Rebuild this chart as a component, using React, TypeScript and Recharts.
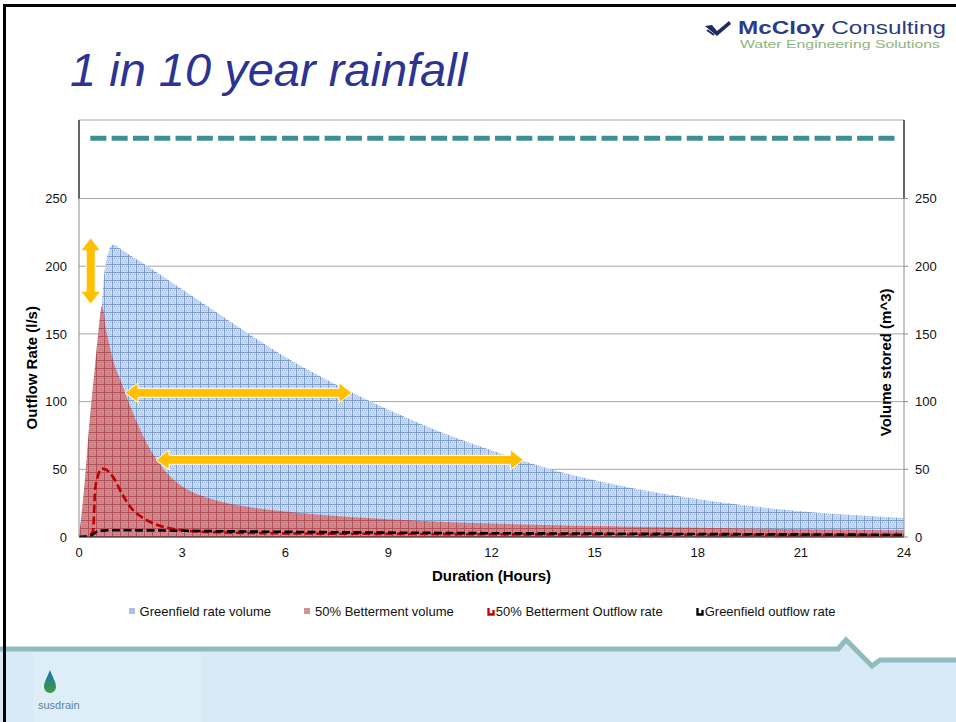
import React from 'react';
import { ComposedChart, Area, Line, XAxis, YAxis, CartesianGrid, Legend, ReferenceLine } from 'recharts';

const FONT = '"Liberation Sans", Arial, sans-serif';

// duration in hours
const hours = [0, 0.17, 0.33, 0.41, 0.47, 0.55, 0.67, 0.8, 1, 1.25, 1.5, 1.75, 2, 2.5, 3, 3.5, 4, 5, 6, 7, 8, 9, 10, 11, 12, 13, 14, 15, 16, 17, 18, 19, 20, 21, 22, 23, 24];

const greenfieldVolume = [0, 3, 15, 30, 50, 95, 172, 205, 216, 212, 208, 204, 200, 191.5, 183, 174.5, 166, 149, 133, 119, 106, 94, 83, 73, 64, 55.5, 48, 42, 36.5, 32, 28, 24.5, 21.5, 19, 17, 15.5, 14];
const bettermentVolume = [0, 42, 92, 112, 128, 148, 171, 152, 130, 113, 96, 81, 68, 49, 37.5, 31, 27, 22, 18.8, 16.5, 14.6, 13.1, 11.9, 10.8, 10, 9.3, 8.7, 8.1, 7.6, 7.2, 6.8, 6.4, 6.1, 5.8, 5.5, 5.2, 5];
const bettermentOutflow = [0, 0.3, 1.5, 5, 35, 45, 50.5, 49.5, 44, 32, 22, 16, 12, 7.2, 5, 4, 3.5, 3, 2.7, 2.5, 2.4, 2.3, 2.2, 2.1, 2, 1.95, 1.9, 1.85, 1.8, 1.75, 1.7, 1.65, 1.6, 1.55, 1.5, 1.45, 1.4];
const greenfieldOutflow = [0, 0.1, 0.8, 2, 3.2, 4.2, 4.7, 4.9, 5, 5, 5, 4.9, 4.9, 4.8, 4.6, 4.45, 4.3, 4, 3.8, 3.6, 3.4, 3.2, 3.1, 2.9, 2.8, 2.7, 2.6, 2.5, 2.4, 2.3, 2.2, 2.1, 2, 1.9, 1.8, 1.7, 1.6];

const hourTicks = [0, 3, 6, 9, 12, 15, 18, 21, 24];
const valueTicks = [0, 50, 100, 150, 200, 250];
const axisMax = 308;

// storage limit shown as the teal dashed line above the chart
const storageLimit = 294.5;
const storageSpan = [0.33, 23.77];

// the orange double arrows (hours, value)
const arrows = [
  [{ x: 0.34, y: 221 }, { x: 0.34, y: 172 }],
  [{ x: 1.34, y: 106.5 }, { x: 7.94, y: 106.5 }],
  [{ x: 2.24, y: 57 }, { x: 12.93, y: 57 }],
];

const series = [
  { key: 'gVol', name: 'Greenfield rate volume', kind: 'area', color: '#a9c1e5' },
  { key: 'bVol', name: '50% Betterment volume', kind: 'area', color: '#d39094' },
  { key: 'bOut', name: '50% Betterment Outflow rate', kind: 'line', color: '#c00000' },
  { key: 'gOut', name: 'Greenfield outflow rate', kind: 'line', color: '#000000' },
];

const data = hours.map((h, i) => ({
  hour: h,
  gVol: greenfieldVolume[i],
  bVol: bettermentVolume[i],
  bOut: bettermentOutflow[i],
  gOut: greenfieldOutflow[i],
}));

function DoubleArrow(props: any) {
  const { x1, y1, x2, y2 } = props;
  const dx = x2 - x1;
  const dy = y2 - y1;
  const len = Math.hypot(dx, dy) || 1;
  const ux = dx / len;
  const uy = dy / len;
  const px = -uy;
  const py = ux;
  const shaft = 4.5;
  const head = 10;
  const headLen = 13;
  const pt = (a: number, b: number) => `${x1 + ux * a + px * b},${y1 + uy * a + py * b}`;
  const points = [
    pt(0, 0), pt(headLen, head), pt(headLen, shaft), pt(len - headLen, shaft), pt(len - headLen, head),
    pt(len, 0), pt(len - headLen, -head), pt(len - headLen, -shaft), pt(headLen, -shaft), pt(headLen, -head),
  ].join(' ');
  return <polygon points={points} fill="#ffc000" stroke="#ffffff" strokeWidth={1} />;
}

const titleStyle = { fontSize: 15, fontWeight: 'bold' as const, fill: '#000', fontFamily: FONT };

function LeftTitle(props: any) {
  const vb = props.viewBox;
  const cx = vb.x + 32;
  const cy = vb.y + vb.height * (1 - 125 / axisMax);
  return (
    <text x={cx} y={cy} textAnchor="middle" dominantBaseline="central" transform={`rotate(-90 ${cx} ${cy})`} style={titleStyle}>
      Outflow Rate (l/s)
    </text>
  );
}

function RightTitle(props: any) {
  const vb = props.viewBox;
  const cx = vb.x - 18;
  const cy = vb.y + vb.height * (1 - 129 / axisMax);
  return (
    <text x={cx} y={cy} textAnchor="middle" dominantBaseline="central" transform={`rotate(-90 ${cx} ${cy})`} style={titleStyle}>
      Volume stored (m^3)
    </text>
  );
}

function BottomTitle(props: any) {
  const vb = props.viewBox;
  return (
    <text x={vb.x + vb.width / 2} y={vb.y + 38} textAnchor="middle" dominantBaseline="central" style={titleStyle}>
      Duration (Hours)
    </text>
  );
}

function LegendIcon({ kind, color }: { kind: string; color: string }) {
  if (kind === 'area') {
    return (
      <svg width={6} height={6} style={{ display: 'block' }}>
        <rect width={6} height={6} fill={color} />
      </svg>
    );
  }
  return (
    <svg width={8} height={9} style={{ display: 'block' }}>
      <path d="M1.5 1 V7.5 H6.5 V3" fill="none" stroke={color} strokeWidth={2.3} />
    </svg>
  );
}

function SlideLegend() {
  return (
    <div style={{ display: 'flex', justifyContent: 'center', alignItems: 'center', height: 30, boxSizing: 'border-box', paddingLeft: 16, paddingBottom: 4, fontFamily: FONT, fontSize: 13, color: '#111' }}>
      {series.map((s, i) => (
        <div key={s.key} style={{ display: 'flex', alignItems: 'center', marginLeft: i ? 33 : 0 }}>
          <LegendIcon kind={s.kind} color={s.color} />
          <span style={{ marginLeft: s.kind === 'area' ? 5 : 1, whiteSpace: 'nowrap' }}>{s.name}</span>
        </div>
      ))}
    </div>
  );
}

function SlideHeader() {
  return (
    <svg width={956} height={110} style={{ position: 'absolute', left: 0, top: 0 }}>
      <text x={70} y={86} fontFamily={FONT} fontStyle="italic" fontSize={47} fill="#2d3393">
        1 in 10 year rainfall
      </text>
      <path d="M705 26 L712 25 L717 31 L729 21 L731 24 L717 36 Z" fill="#1f2c63" />
      <path d="M707 30 L714 35" stroke="#1f2c63" strokeWidth={2} />
      <text x={738} y={34} fontFamily={FONT} fontSize={18} fill="#2a3c86" textLength={208} lengthAdjust="spacingAndGlyphs">
        <tspan fontWeight="bold">McCloy</tspan> Consulting
      </text>
      <text x={740} y={48} fontFamily={FONT} fontSize={10} fill="#8db57a" textLength={200} lengthAdjust="spacingAndGlyphs">
        Water Engineering Solutions
      </text>
    </svg>
  );
}

function SlideFooter() {
  return (
    <svg width={956} height={90} style={{ position: 'absolute', left: 0, top: 632 }}>
      <defs>
        <linearGradient id="dropFill" x1="0" y1="0" x2="0" y2="1">
          <stop offset="0" stopColor="#1b6fb5" />
          <stop offset="1" stopColor="#3f9b3c" />
        </linearGradient>
      </defs>
      <path d="M0 17 L838 17 L846 8 L872 34 L880 28 L956 28 L956 90 L0 90 Z" fill="#d8eaf6" />
      <rect x={33} y={20} width={168} height={70} fill="#deeef9" />
      <path d="M0 17 L838 17 L846 8 L872 34 L880 28 L956 28" fill="none" stroke="#8fbdbd" strokeWidth={5} />
      <path d="M50 38 C47 46 44 50 44 55 A6 6 0 0 0 56 55 C56 50 53 46 50 38 Z" fill="url(#dropFill)" />
      <text x={38} y={77} fontFamily={FONT} fontSize={11} fill="#5d82a3">susdrain</text>
    </svg>
  );
}

export default function App() {
  return (
    <div style={{ position: 'absolute', left: 0, top: 0, width: 956, height: 722, background: '#ffffff', overflow: 'hidden', fontFamily: FONT }}>
      <SlideHeader />
      <SlideFooter />
      <div style={{ position: 'absolute', left: 0, top: 0 }}>
        <ComposedChart width={956} height={640} data={data} margin={{ top: 120, right: 8, bottom: 12, left: 0 }}>
          <defs>
            <pattern id="blueMesh" width={8} height={8} patternUnits="userSpaceOnUse">
              <rect width={8} height={8} fill="#ccdbf0" />
              <path d="M2 2h1v1h-1z M4 2h1v1h-1z M6 2h1v1h-1z M3 4h1v1h-1z M5 4h1v1h-1z M2 6h1v1h-1z M4 6h1v1h-1z M6 6h1v1h-1z" fill="#a4bde2" />
              <path d="M0 0.5H8 M0.5 0V8" stroke="#7d9fd2" strokeWidth={1} />
            </pattern>
            <pattern id="redMesh" width={8} height={8} patternUnits="userSpaceOnUse">
              <rect width={8} height={8} fill="#d08a8e" />
              <path d="M2 2h1v1h-1z M4 2h1v1h-1z M6 2h1v1h-1z M3 4h1v1h-1z M5 4h1v1h-1z M2 6h1v1h-1z M4 6h1v1h-1z M6 6h1v1h-1z" fill="#c5767b" />
              <path d="M0 0.5H8 M0.5 0V8" stroke="#b2505a" strokeWidth={1} />
            </pattern>
          </defs>
          <CartesianGrid yAxisId="left" vertical={false} stroke="#a6a6a6" />
          <XAxis
            dataKey="hour"
            type="number"
            domain={[0, 24]}
            ticks={hourTicks}
            interval={0}
            height={61}
            tickLine={false}
            tickSize={4}
            tickMargin={7}
            axisLine={{ stroke: '#333' }}
            tick={{ fontSize: 13, fill: '#111' }}
            label={{ content: BottomTitle }}
          />
          <YAxis
            yAxisId="left"
            orientation="left"
            width={79}
            domain={[0, axisMax]}
            ticks={valueTicks}
            interval={0}
            allowDataOverflow
            tickLine={false}
            tickSize={4}
            tickMargin={8}
            axisLine={{ stroke: '#8c8c8c' }}
            tick={{ fontSize: 13, fill: '#111' }}
            label={{ content: LeftTitle }}
          />
          <YAxis
            yAxisId="right"
            orientation="right"
            width={44}
            domain={[0, axisMax]}
            ticks={valueTicks}
            interval={0}
            allowDataOverflow
            tickLine={{ stroke: '#8c8c8c' }}
            tickSize={4}
            tickMargin={7}
            axisLine={{ stroke: '#8c8c8c' }}
            tick={{ fontSize: 13, fill: '#111' }}
            label={{ content: RightTitle }}
          />
          <Area yAxisId="left" type="monotone" dataKey="gVol" name={series[0].name} stroke="none" fill="url(#blueMesh)" fillOpacity={1} isAnimationActive={false} activeDot={false} />
          <Area yAxisId="left" type="monotone" dataKey="bVol" name={series[1].name} stroke="none" fill="url(#redMesh)" fillOpacity={1} isAnimationActive={false} activeDot={false} />
          <Line yAxisId="left" type="monotone" dataKey="bOut" name={series[2].name} stroke={series[2].color} strokeWidth={2.6} strokeDasharray="8 3.5" dot={false} activeDot={false} isAnimationActive={false} />
          <Line yAxisId="left" type="monotone" dataKey="gOut" name={series[3].name} stroke={series[3].color} strokeWidth={2.6} strokeDasharray="8 3.5" dot={false} activeDot={false} isAnimationActive={false} />
          <ReferenceLine yAxisId="left" segment={[{ x: 0, y: 250 }, { x: 0, y: axisMax }]} stroke="#000" strokeWidth={1.5} />
          <ReferenceLine yAxisId="left" segment={[{ x: 24, y: 250 }, { x: 24, y: axisMax }]} stroke="#000" strokeWidth={1.5} />
          <ReferenceLine
            yAxisId="left"
            segment={[{ x: storageSpan[0], y: storageLimit }, { x: storageSpan[1], y: storageLimit }]}
            stroke="#3f8f91"
            strokeWidth={5}
            strokeDasharray="16 5.3"
          />
          {arrows.map((a, i) => (
            <ReferenceLine key={i} yAxisId="left" segment={a} shape={DoubleArrow} />
          ))}
          <Legend verticalAlign="bottom" height={30} content={SlideLegend} />
        </ComposedChart>
      </div>
      <div style={{ position: 'absolute', left: 3, top: 4, width: 953, height: 718, borderLeft: '3px solid #000', borderTop: '3px solid #000', pointerEvents: 'none' }} />
    </div>
  );
}
